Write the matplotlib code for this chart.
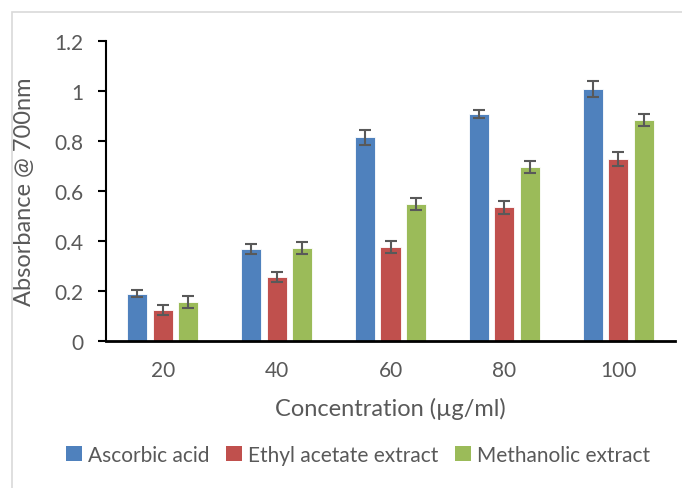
import numpy as np
import matplotlib.pyplot as plt
from matplotlib.patches import Rectangle, Patch

concentrations = ['20', '40', '60', '80', '100']
series_names = ['Ascorbic acid', 'Ethyl acetate extract', 'Methanolic extract']
ascorbic = [0.190, 0.369, 0.815, 0.909, 1.008]
ascorbic_err = [0.013, 0.019, 0.029, 0.015, 0.031]
ethyl = [0.124, 0.256, 0.375, 0.535, 0.729]
ethyl_err = [0.020, 0.021, 0.024, 0.026, 0.027]
methanolic = [0.156, 0.373, 0.548, 0.696, 0.884]
methanolic_err = [0.023, 0.025, 0.025, 0.023, 0.023]
colors = ['#4F81BD', '#C0504D', '#9BBB59']
y_ticks = [0, 0.2, 0.4, 0.6, 0.8, 1, 1.2]
y_tick_labels = ['0', '0.2', '0.4', '0.6', '0.8', '1', '1.2']

plt.rcParams['font.family'] = ['Lato', 'DejaVu Sans']
text_color = '#595959'

fig = plt.figure(figsize=(6.82, 4.89), dpi=100)
# light chart border (cut off on right/bottom like the original)
fig.patches.append(Rectangle((12 / 682, -0.1), 1.2, 1 - 13 / 489 + 0.1,
                             transform=fig.transFigure, fill=False,
                             edgecolor='#D9D9D9', linewidth=1.2))

ax = fig.add_axes([106 / 682, 147 / 489, 569 / 682, 300 / 489])

x = np.arange(len(concentrations))
width = 0.176
step = 0.224
values = [ascorbic, ethyl, methanolic]
errors = [ascorbic_err, ethyl_err, methanolic_err]
for i in range(3):
    ax.bar(x + (i - 1) * step, values[i], width, color=colors[i],
           edgecolor='white', linewidth=0.6, zorder=2)
    ax.errorbar(x + (i - 1) * step, values[i], yerr=errors[i], fmt='none',
                ecolor='#595959', elinewidth=1.5, capsize=4.5, capthick=1.5, zorder=3)

ax.set_xlim(-0.5, 4.5)
ax.set_ylim(0, 1.2)
ax.set_xticks(x)
ax.set_xticklabels(concentrations)
ax.set_yticks(y_ticks)
ax.set_yticklabels(y_tick_labels)
ax.tick_params(axis='x', length=0, pad=14, labelsize=15, labelcolor=text_color)
ax.tick_params(axis='y', length=6, width=1.5, pad=10, labelsize=15, labelcolor=text_color)

for s in ['top', 'right']:
    ax.spines[s].set_visible(False)
ax.spines['left'].set_linewidth(1.5)
ax.spines['bottom'].set_linewidth(2)

ax.set_xlabel('Concentration (µg/ml)', fontsize=17, color=text_color, labelpad=12)
ax.set_ylabel('Absorbance @ 700nm', fontsize=17, color=text_color)
ax.yaxis.set_label_coords(-0.125, 0.5)

handles = [Patch(facecolor=c) for c in colors]
fig.legend(handles, series_names, loc='center', bbox_to_anchor=(358 / 682, 1 - 456 / 489),
           ncol=3, frameon=False, fontsize=15, labelcolor=text_color,
           handlelength=0.75, handleheight=0.75, handletextpad=0.3, columnspacing=0.8)

fig.savefig('out.png', dpi=100)
